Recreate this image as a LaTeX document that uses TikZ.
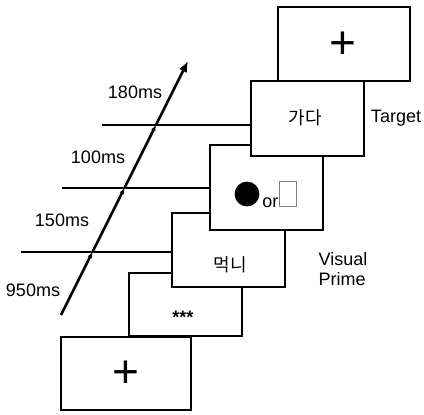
\documentclass[tikz,border=0pt]{standalone}
\usepackage{fontspec}
\setmainfont{Liberation Sans}
\newfontfamily\kr{Noto Sans CJK KR}
\usetikzlibrary{arrows.meta,positioning,calc}

\begin{document}
\begin{tikzpicture}[
  x=0.5pt, y=-0.5pt,
  screen/.style={draw, fill=white, line width=0.75pt, inner sep=0pt, anchor=north west},
  tick/.style={line width=0.8pt},
  arrow/.style={-{Latex[length=5.5pt,width=4.5pt]}, line width=1.3pt},
  small arrow/.style={-{Latex[length=3pt,width=2.5pt]}, line width=1.3pt},
  every node/.style={font=\fontsize{9}{11}\selectfont},
  hangul/.style={font=\kr\fontsize{9}{11}\selectfont},
  cross/.style={font=\fontsize{23}{23}\selectfont, inner sep=0pt}
]
\useasboundingbox (0,0) rectangle (424,414);

% screens, later (upper) ones in front
\node[screen, minimum width=65pt, minimum height=36.5pt] (fix) at (60,336) {};
\node[screen, minimum width=56.5pt, minimum height=31.5pt] (mask) at (128,272) {};
\node[screen, minimum width=56.5pt, minimum height=37pt] (word) at (171,212) {};
\node[screen, minimum width=56.5pt, minimum height=42.5pt] (prime) at (209,144) {};
\node[screen, minimum width=56.5pt, minimum height=37.5pt] (target) at (250,80) {};
\node[screen, minimum width=66pt, minimum height=37pt] (top) at (277,6) {};

% screen contents
\node[cross] (plus2) at (343,45) {+};
\node[hangul] (go) at (305,118) {가다};
\fill (247,194) circle[radius=6.2pt] node (dot) {};
\node[anchor=base west, inner sep=0pt] (or) at (262,207) {or};
\node[draw=gray, line width=0.4pt, minimum width=8.5pt, minimum height=12.5pt,
  inner sep=0pt, anchor=south west] (rect) at (279,207) {};
\node[hangul] (eat) at (230,265) {먹니};
\node[font=\bfseries\fontsize{9}{10}\selectfont] (stars) at (183,317) {***};
\node[cross] (plus1) at (126,374) {+};

% side labels
\node (tlabel) at (396,118) {Target};
\node[align=left] (plabel) at (343,269) {Visual\\[-1pt]Prime};

% time axis
\coordinate (t0) at (61,315);
\coordinate (c1) at (92.5,252);
\coordinate (c2) at (124.5,188);
\coordinate (c3) at (156,125);
\coordinate (t4) at (188,61);
\coordinate (l1) at (21,252);
\coordinate (l2) at (62,188);
\coordinate (l3) at (102,125);

\draw[tick] (l1) -- (l1 -| word.west);
\draw[tick] (l2) -- (l2 -| prime.west);
\draw[tick] (l3) -- (l3 -| target.west);

\draw[small arrow] (t0) -- (c1);
\draw[small arrow] (c1) -- (c2);
\draw[small arrow] (c2) -- (c3);
\draw[arrow] (c3) -- (t4);

\node (d1) at (33,290) {950ms};
\node (d2) at (62,220) {150ms};
\node (d3) at (98,157) {100ms};
\node (d4) at (135,92) {180ms};

\end{tikzpicture}
\end{document}
